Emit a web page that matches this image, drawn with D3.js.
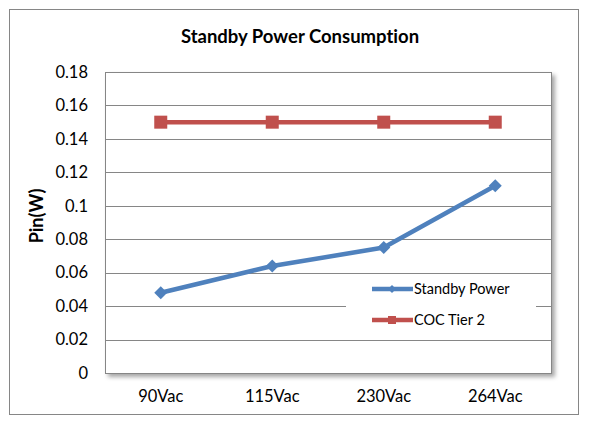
<!DOCTYPE html>
<html>
<head>
<meta charset="utf-8">
<script src="https://cdn.jsdelivr.net/npm/d3@7"></script>
<style>
  body { margin: 0; background: #fff; }
  text { font-family: Lato, "Open Sans", sans-serif; fill: #000; font-variant-ligatures: none; }
</style>
</head>
<body>
<div id="main_div"></div>
<script>
const categories = ["90Vac", "115Vac", "230Vac", "264Vac"];
const standbyPower = [0.048, 0.064, 0.075, 0.112];
const cocTier2 = [0.15, 0.15, 0.15, 0.15];
const yTicks = [0, 0.02, 0.04, 0.06, 0.08, 0.1, 0.12, 0.14, 0.16, 0.18];

const W = 591, H = 433;
const plot = { left: 105, right: 551, top: 72, bottom: 373 };

const svg = d3.select("#main_div").append("svg")
    .attr("width", W)
    .attr("height", H);

// outer chart frame
svg.append("rect")
    .attr("x", 9.5).attr("y", 9.5)
    .attr("width", 569).attr("height", 405)
    .attr("fill", "#fff")
    .attr("stroke", "#868686");

const defs = svg.append("defs");
const f = defs.append("filter").attr("id", "shadow")
    .attr("x", "-5%").attr("y", "-5%").attr("width", "115%").attr("height", "115%");
f.append("feDropShadow").attr("dx", 3).attr("dy", 3).attr("stdDeviation", 2)
    .attr("flood-color", "#000").attr("flood-opacity", 0.35);

const xScale = d3.scaleBand()
    .domain(categories)
    .range([plot.left, plot.right]);

const yScale = d3.scaleLinear()
    .domain([0, 0.18])
    .range([plot.bottom, plot.top]);

// plot area
svg.append("rect")
    .attr("x", plot.left + 0.5).attr("y", plot.top + 0.5)
    .attr("width", plot.right - plot.left).attr("height", plot.bottom - plot.top)
    .attr("fill", "#fff")
    .attr("stroke", "#868686")
    .attr("filter", "url(#shadow)");

// gridlines
svg.append("g")
    .selectAll("line")
    .data(yTicks.slice(1))
    .join("line")
    .attr("x1", plot.left).attr("x2", plot.right)
    .attr("y1", d => Math.round(yScale(d)) + 0.5)
    .attr("y2", d => Math.round(yScale(d)) + 0.5)
    .attr("stroke", "#868686");

// y axis labels
const yAxis = d3.axisLeft(yScale)
    .tickValues(yTicks)
    .tickFormat(d => d3.format("")(+d.toFixed(2)))
    .tickSize(0)
    .tickPadding(17);
svg.append("g")
    .attr("transform", `translate(${plot.left},0)`)
    .call(yAxis)
    .call(g => g.select(".domain").remove())
    .selectAll("text")
    .style("font-family", "Lato, 'Open Sans', sans-serif")
    .attr("font-size", 16.5);

// x axis labels
const xAxis = d3.axisBottom(xScale).tickSize(0).tickPadding(17);
svg.append("g")
    .attr("transform", `translate(0,${plot.bottom})`)
    .call(xAxis)
    .call(g => g.select(".domain").remove())
    .selectAll("text")
    .style("font-family", "Lato, 'Open Sans', sans-serif")
    .attr("font-size", 16.5);

// title and axis title
svg.append("text")
    .attr("x", 300).attr("y", 43)
    .attr("text-anchor", "middle")
    .attr("font-size", 18.5)
    .attr("font-weight", "bold")
    .text("Standby Power Consumption");

svg.append("text")
    .attr("transform", "translate(43,216) rotate(-90)")
    .attr("text-anchor", "middle")
    .attr("font-size", 18)
    .attr("font-weight", "bold")
    .text("Pin(W)");

// legend background covers gridline
svg.append("rect")
    .attr("x", 346).attr("y", 276)
    .attr("width", 190).attr("height", 58)
    .attr("fill", "#fff");

const line = d3.line()
    .x((d, i) => xScale(categories[i]) + xScale.bandwidth() / 2)
    .y(d => yScale(d));

const series = [
    { name: "Standby Power", values: standbyPower, color: "#4F81BD", marker: "diamond" },
    { name: "COC Tier 2", values: cocTier2, color: "#C0504D", marker: "square" }
];

function drawMarker(g, type, color, x, y, s) {
    if (type === "diamond") {
        g.append("path")
            .attr("d", `M${x},${y - s}L${x + s},${y}L${x},${y + s}L${x - s},${y}Z`)
            .attr("fill", color);
    } else {
        g.append("rect")
            .attr("x", x - s).attr("y", y - s)
            .attr("width", 2 * s).attr("height", 2 * s)
            .attr("fill", color);
    }
}

series.forEach(s => {
    const g = svg.append("g");
    g.append("path")
        .datum(s.values)
        .attr("fill", "none")
        .attr("stroke", s.color)
        .attr("stroke-width", 4.5)
        .attr("stroke-linejoin", "round")
        .attr("d", line);
    s.values.forEach((v, i) => {
        drawMarker(g, s.marker, s.color,
            xScale(categories[i]) + xScale.bandwidth() / 2, yScale(v), 6.5);
    });
});

// legend
series.forEach((s, i) => {
    const y = 289 + i * 31;
    const g = svg.append("g");
    g.append("line")
        .attr("x1", 372).attr("x2", 413)
        .attr("y1", y).attr("y2", y)
        .attr("stroke", s.color)
        .attr("stroke-width", 4.5);
    drawMarker(g, s.marker, s.color, 392, y, 4);
    g.append("text")
        .attr("x", 414).attr("y", y + 5)
        .attr("font-size", 14.5)
        .text(s.name);
});
</script>
</body>
</html>
